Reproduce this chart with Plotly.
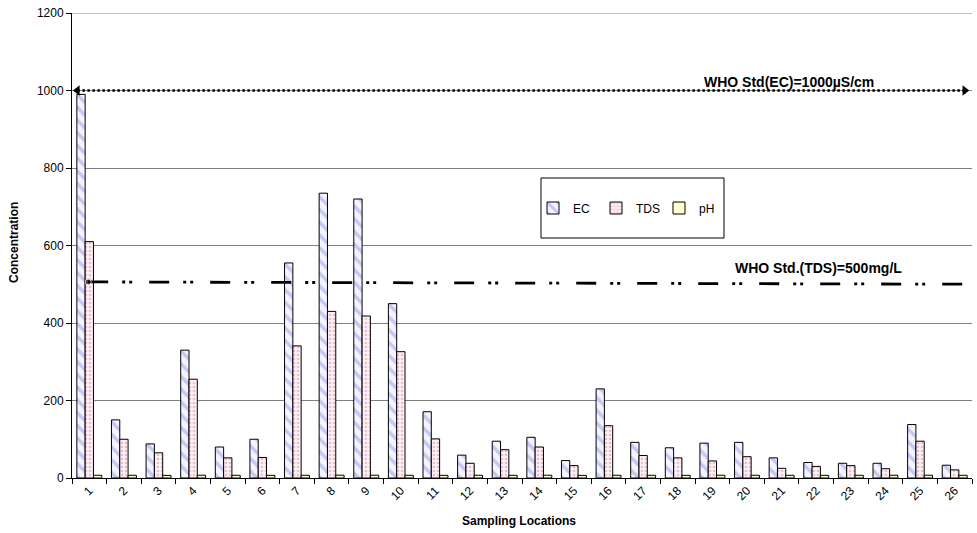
import plotly.graph_objects as go

locations = [str(i) for i in range(1, 27)]
ec = [990, 150, 88, 330, 80, 100, 555, 735, 720, 450, 171, 59, 95, 105, 45, 230,
      92, 78, 90, 92, 52, 40, 38, 38, 138, 33]
tds = [610, 100, 65, 255, 52, 53, 341, 430, 418, 326, 101, 38, 73, 80, 32, 135,
       58, 52, 44, 55, 25, 30, 32, 24, 95, 21]
ph = [7.1, 7.0, 6.8, 7.2, 7.0, 6.9, 7.1, 7.3, 7.2, 7.0, 6.9, 7.1, 7.0, 7.2, 6.8, 7.1,
      7.0, 6.9, 7.2, 7.1, 7.0, 6.9, 7.0, 7.1, 7.2, 7.0]
who_ec = 1000
who_tds = 500
y_ticks = [0, 200, 400, 600, 800, 1000, 1200]

FONT = "Liberation Sans, Arial, sans-serif"

fig = go.Figure()
fig.add_trace(go.Bar(
    x=locations, y=ec, name="EC",
    marker=dict(color="#F4F4FF", line=dict(color="black", width=1),
                pattern=dict(shape="\\", fgcolor="#9999EE", bgcolor="#F4F4FF",
                             size=9, solidity=0.4)),
))
fig.add_trace(go.Bar(
    x=locations, y=tds, name="TDS",
    marker=dict(color="#FFF0F4", line=dict(color="black", width=1),
                pattern=dict(shape=".", fgcolor="#C890B0", bgcolor="#FFF0F4",
                             size=4, solidity=0.35)),
))
fig.add_trace(go.Bar(
    x=locations, y=ph, name="pH",
    marker=dict(color="#FFFFCC", line=dict(color="black", width=1)),
))

# WHO EC guideline (dotted with arrowheads)
fig.add_trace(go.Scatter(
    x=[0.006, 0.992], y=[who_ec, who_ec], xaxis="x2", mode="lines+markers",
    line=dict(color="black", width=2.5, dash="2.5px,2.5px"),
    marker=dict(symbol=["triangle-left", "triangle-right"], size=9, color="black"),
    showlegend=False, hoverinfo="skip", cliponaxis=False,
))
# WHO TDS guideline (dash-dot-dot)
fig.add_trace(go.Scatter(
    x=[0.018, 1.0], y=[who_tds + 6, who_tds], xaxis="x2", mode="lines+markers",
    line=dict(color="black", width=2.8, dash="20px,14px,3px,4px,3px,17px"),
    marker=dict(symbol="circle", size=[6, 0], color="black"),
    showlegend=False, hoverinfo="skip", cliponaxis=False,
))

fig.add_annotation(x=(789 - 72) / 900, y=who_ec, xref="paper", yref="y", xanchor="center",
                   text="<b>WHO Std(EC)=1000µS/cm</b>", showarrow=False, yshift=9,
                   font=dict(family=FONT, size=14, color="black"))
fig.add_annotation(x=(818 - 72) / 900, y=who_tds, xref="paper", yref="y", xanchor="center",
                   text="<b>WHO Std.(TDS)=500mg/L</b>", showarrow=False, yshift=16,
                   font=dict(family=FONT, size=14, color="black"))

# axis titles
fig.add_annotation(x=0.5 - 3 / 900, y=0, xref="paper", yref="paper", xanchor="center",
                   yanchor="middle", yshift=-43, showarrow=False,
                   text="<b>Sampling Locations</b>", font=dict(family=FONT, size=12))
fig.add_annotation(x=0, y=(478 - 243) / 465, xref="paper", yref="paper", xanchor="center",
                   yanchor="middle", xshift=-58, textangle=-90, showarrow=False,
                   text="<b>Concentration</b>", font=dict(family=FONT, size=12))

# top gridline (plotly omits the grid line at the range end)
fig.add_shape(type="line", xref="paper", yref="y", x0=0, x1=1,
              y0=y_ticks[-1], y1=y_ticks[-1], line=dict(color="#808080", width=1),
              layer="below")

# legend frame
fig.add_shape(type="rect", xref="paper", yref="paper",
              x0=(541 - 72) / 900, x1=(724 - 72) / 900,
              y0=(478 - 238) / 465, y1=(478 - 178) / 465,
              line=dict(color="black", width=1), fillcolor="white", layer="below")

fig.update_layout(
    width=977, height=533,
    margin=dict(l=72, r=5, t=13, b=55, autoexpand=False),
    paper_bgcolor="white", plot_bgcolor="white",
    barmode="group", bargap=0.28, bargroupgap=0,
    font=dict(family=FONT, size=12, color="black"),
    legend=dict(orientation="h", x=(533 - 72) / 900, y=(478 - 208) / 465,
                xanchor="left", yanchor="middle", bgcolor="rgba(0,0,0,0)",
                borderwidth=0, entrywidth=18, entrywidthmode="pixels",
                itemwidth=30, font=dict(family=FONT, size=12)),
    xaxis=dict(type="category", showgrid=False, showline=True, linecolor="black",
               linewidth=1, ticks="outside", tickson="boundaries", ticklen=5,
               tickcolor="black", tickangle=-45, tickfont=dict(size=12), automargin=False),
    xaxis2=dict(overlaying="x", range=[0, 1], visible=False, fixedrange=True),
    yaxis=dict(range=[0, 1200], tickvals=y_ticks, showgrid=True, gridcolor="#808080",
               gridwidth=1, showline=True, linecolor="black", linewidth=1,
               ticks="outside", ticklen=5, tickcolor="black", zeroline=False,
               tickfont=dict(size=12), automargin=False, ticklabeloverflow="allow"),
)

fig.write_html("out.html", config={"displayModeBar": False},
               post_script="document.body.style.margin='0';")
